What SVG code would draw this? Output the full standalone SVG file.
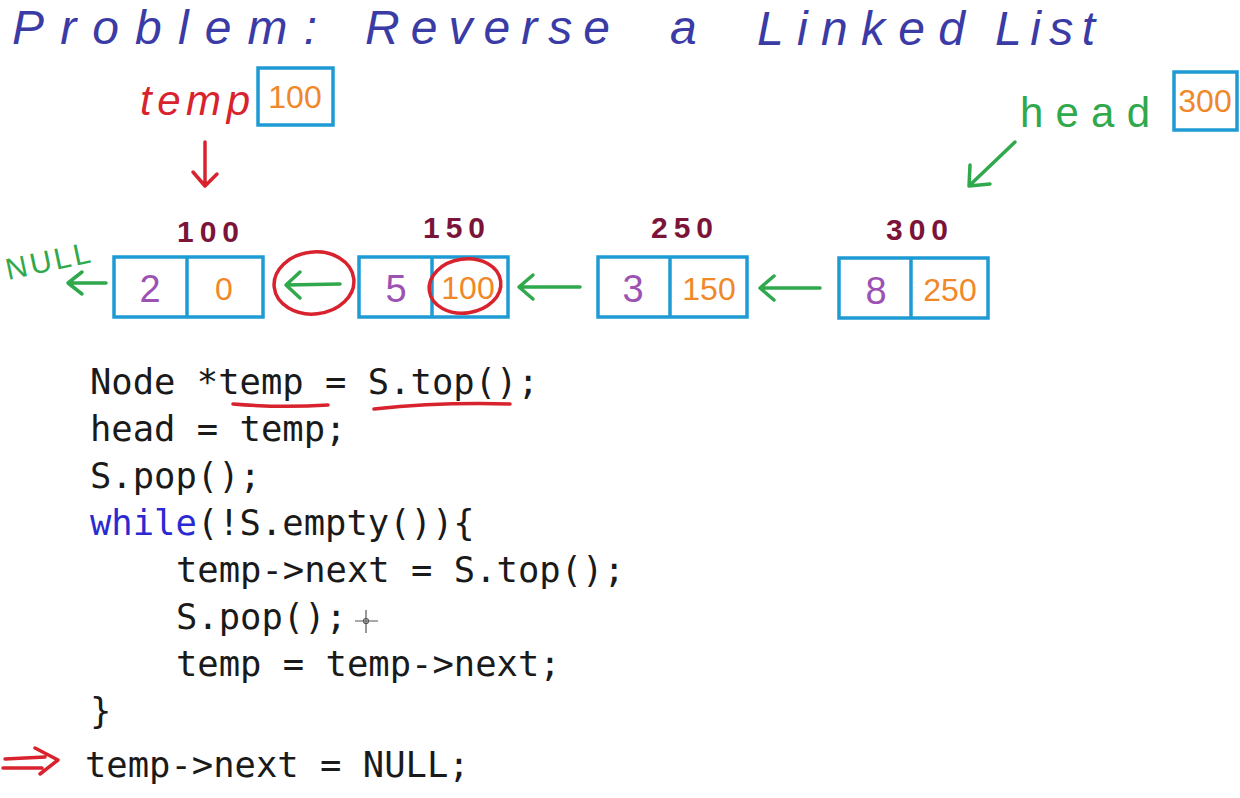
<svg xmlns="http://www.w3.org/2000/svg" width="1240" height="798" viewBox="0 0 1240 798">
<defs>
<style>
.hand{font-family:"Liberation Sans","DejaVu Sans",sans-serif;}
.title{fill:#3b3ba6;font-size:48px;font-style:italic;}
.box{fill:none;stroke:#1e9bd4;stroke-width:3.5;}
.val{fill:#9b52b3;font-size:38px;text-anchor:middle;}
.ptr{fill:#f0882a;font-size:32px;text-anchor:middle;}
.addr{fill:#7b1438;font-size:30px;font-weight:bold;letter-spacing:6px;text-anchor:middle;}
.g{stroke:#30a84c;stroke-width:3.5;fill:none;stroke-linecap:round;stroke-linejoin:round;}
.r{stroke:#d8232e;stroke-width:3.5;fill:none;stroke-linecap:round;stroke-linejoin:round;}
.code{font-family:"DejaVu Sans Mono","Liberation Mono",monospace;font-size:35.5px;fill:#1a1a1a;}
.kw{fill:#2a2ad0;}
</style>
</defs>
<rect width="1240" height="798" fill="#ffffff"/>

<g id="title" class="hand title">
<text x="12" y="44" textLength="305" lengthAdjust="spacing">Problem:</text>
<text x="365" y="44" textLength="245" lengthAdjust="spacing">Reverse</text>
<text x="670" y="44">a</text>
<text x="757" y="45" textLength="208" lengthAdjust="spacing">Linked</text>
<text x="995" y="45" textLength="100" lengthAdjust="spacing">List</text>
</g>

<g id="temp-pointer">
<text class="hand" x="140" y="115" fill="#d8232e" font-size="42" font-style="italic" textLength="110" lengthAdjust="spacing">temp</text>
<rect class="box" x="258" y="68" width="75" height="57"/>
<text class="hand ptr" x="295" y="108">100</text>
</g>

<g id="head-pointer">
<text class="hand" x="1020" y="127" fill="#30a84c" font-size="42" textLength="130" lengthAdjust="spacing">head</text>
<rect class="box" x="1174" y="72" width="63" height="58"/>
<text class="hand ptr" x="1205" y="112" font-size="28">300</text>
</g>

<g id="node100">
<text class="hand addr" x="211" y="242">100</text>
<rect class="box" x="114" y="257" width="149" height="60"/>
<line class="box" x1="187" y1="257" x2="187" y2="317"/>
<text class="hand val" x="150" y="302">2</text>
<text class="hand ptr" x="224" y="300">0</text>
</g>

<g id="node150">
<text class="hand addr" x="457" y="238">150</text>
<rect class="box" x="359" y="257" width="149" height="60"/>
<line class="box" x1="432" y1="257" x2="432" y2="317"/>
<text class="hand val" x="396" y="302">5</text>
<text class="hand ptr" x="468" y="299">100</text>
</g>

<g id="node250">
<text class="hand addr" x="685" y="238">250</text>
<rect class="box" x="598" y="257" width="149" height="60"/>
<line class="box" x1="670" y1="257" x2="670" y2="317"/>
<text class="hand val" x="633" y="302">3</text>
<text class="hand ptr" x="709" y="300">150</text>
</g>

<g id="node300">
<text class="hand addr" x="920" y="240">300</text>
<rect class="box" x="839" y="258" width="149" height="60"/>
<line class="box" x1="911" y1="258" x2="911" y2="318"/>
<text class="hand val" x="876" y="304">8</text>
<text class="hand ptr" x="950" y="301">250</text>
</g>

<g id="null-label">
<text class="hand" x="8" y="280" fill="#30a84c" font-size="30" transform="rotate(-12 8 280)" letter-spacing="3">NULL</text>
</g>

<g id="connectors">
<path class="r" d="M205 142 L205 185 M193 172 L205 186 L217 174"/>
<path class="g" d="M1015 142 L970 185 M970 165 L969 186 L990 184"/>
<path class="g" d="M106 283 L68 283 M82 272 L68 283 L82 294"/>
<path class="g" d="M340 284 L286 285 M300 272 L286 285 L300 298"/>
<path class="g" d="M580 287 L519 287 M533 275 L519 287 L533 299"/>
<path class="g" d="M820 288 L760 288 M774 276 L760 288 L774 300"/>
</g>

<g id="annotations">
<ellipse class="r" cx="314" cy="283" rx="40" ry="31" transform="rotate(-6 314 283)"/>
<ellipse class="r" cx="465" cy="286" rx="36" ry="27" transform="rotate(-8 465 286)"/>
<path class="r" d="M233 404 Q280 408 328 405"/>
<path class="r" d="M374 409 Q440 402 510 404"/>
<path class="r" d="M5 759 L45 757 M3 768 L42 768 M35 748 L58 760 L40 774"/>
</g>

<g id="code" class="code">
<text x="90" y="394">Node *temp = S.top();</text>
<text x="90" y="441">head = temp;</text>
<text x="90" y="488">S.pop();</text>
<text x="90" y="535"><tspan class="kw">while</tspan>(!S.empty()){</text>
<text x="176" y="582">temp-&gt;next = S.top();</text>
<text x="176" y="629">S.pop();</text>
<text x="176" y="676">temp = temp-&gt;next;</text>
<text x="90" y="723">}</text>
<text x="85" y="777">temp-&gt;next = NULL;</text>
</g>

<g id="cursor" stroke="#555" stroke-width="1.2" fill="none">
<path d="M355 621 L378 621 M366 610 L366 633"/>
<circle cx="366" cy="621" r="2.5"/>
</g>
</svg>
